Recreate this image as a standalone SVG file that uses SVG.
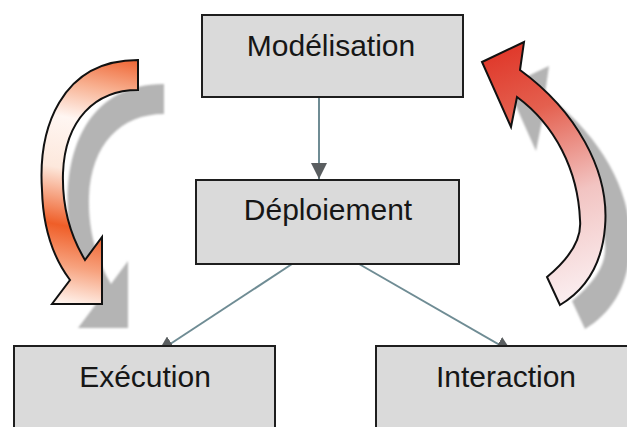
<svg xmlns="http://www.w3.org/2000/svg" width="627" height="427" viewBox="0 0 627 427">
<style>
.box{fill:#dadada;stroke:#1e1e1e;stroke-width:2}
.lbl{font-family:"Liberation Sans",Arial,sans-serif;font-size:30px;fill:#161616;text-anchor:middle}
.conn{stroke:#6f8c94;stroke-width:2;fill:none}
.shadow{fill:#b4b4b4;filter:url(#blur)}
.curv{stroke:#111;stroke-width:2;stroke-linejoin:miter}
</style>
<defs>
<marker id="ah" viewBox="0 0 10 10" refX="10" refY="5" markerWidth="16" markerHeight="16" markerUnits="userSpaceOnUse" orient="auto">
<path d="M0,0 L10,5 L0,10 Z" fill="#5a5e60"/>
</marker>
<filter id="blur" x="-10%" y="-10%" width="120%" height="120%"><feGaussianBlur stdDeviation="1"/></filter>
<linearGradient id="gLeft" gradientUnits="userSpaceOnUse" x1="120" y1="55" x2="70" y2="305">
<stop offset="0" stop-color="#ee6230"/>
<stop offset="0.14" stop-color="#f8b090"/>
<stop offset="0.28" stop-color="#fff6f2"/>
<stop offset="0.48" stop-color="#fde8dc"/>
<stop offset="0.7" stop-color="#ef5e28"/>
<stop offset="0.85" stop-color="#f7a27e"/>
<stop offset="1" stop-color="#fff4ee"/>
</linearGradient>
<linearGradient id="gRight" gradientUnits="userSpaceOnUse" x1="495" y1="55" x2="585" y2="300">
<stop offset="0" stop-color="#e03a2c"/>
<stop offset="0.25" stop-color="#e4604f"/>
<stop offset="0.6" stop-color="#f2c4c2"/>
<stop offset="1" stop-color="#fbf0f2"/>
</linearGradient>
</defs>

<g id="curved-arrows">
<path class="shadow" transform="translate(26,24)" d="M138,60 C60,60 38,130 42,190 C43,230 55,260 70,280 L52,304 L102,304 L102,237 L85,260 C70,235 62,205 63,173 C65,120 95,90 138,90 Z"/>
<path class="shadow" transform="translate(25,24)" d="M482,62 L524,42 L520,70 C575,110 610,170 605,227 C602,265 585,290 560,305 L547,277 C570,258 582,240 580,220 C578,170 555,125 517,97 L511,127 Z"/>
<path class="curv" fill="url(#gLeft)" d="M138,60 C60,60 38,130 42,190 C43,230 55,260 70,280 L52,304 L102,304 L102,237 L85,260 C70,235 62,205 63,173 C65,120 95,90 138,90 Z"/>
<path class="curv" fill="url(#gRight)" d="M482,62 L524,42 L520,70 C575,110 610,170 605,227 C602,265 585,290 560,305 L547,277 C570,258 582,240 580,220 C578,170 555,125 517,97 L511,127 Z"/>
</g>

<g id="connectors">
<line class="conn" x1="319" y1="98" x2="319" y2="179" marker-end="url(#ah)"/>
<line class="conn" x1="292" y1="264" x2="158" y2="352" marker-end="url(#ah)"/>
<line class="conn" x1="359" y1="264" x2="512" y2="352" marker-end="url(#ah)"/>
</g>

<g id="node-modelisation">
<rect class="box" x="202" y="15" width="261" height="82"/>
<text class="lbl" x="331" y="56">Modélisation</text>
</g>
<g id="node-deploiement">
<rect class="box" x="196" y="180" width="263" height="84"/>
<text class="lbl" x="328" y="220">Déploiement</text>
</g>
<g id="node-execution">
<rect class="box" x="14" y="346" width="261" height="100"/>
<text class="lbl" x="145" y="387">Exécution</text>
</g>
<g id="node-interaction">
<rect class="box" x="376" y="346" width="270" height="100"/>
<text class="lbl" x="506" y="387">Interaction</text>
</g>
</svg>
